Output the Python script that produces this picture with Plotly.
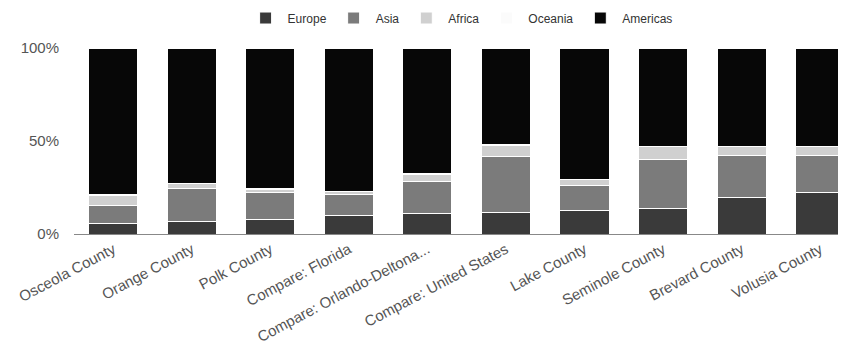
import plotly.graph_objects as go

categories = ["Osceola County", "Orange County", "Polk County", "Compare: Florida",
              "Compare: Orlando-Deltona...", "Compare: United States", "Lake County",
              "Seminole County", "Brevard County", "Volusia County"]

europe   = [5.7, 6.8, 7.9, 9.9, 10.8, 11.7, 12.8, 13.5, 19.5, 22.5]
asia     = [9.6, 17.5, 14.3, 11.1, 17.4, 30.0, 13.3, 26.5, 22.8, 19.8]
africa   = [5.4, 2.7, 1.8, 1.8, 4.0, 5.9, 3.1, 6.8, 4.5, 4.5]
oceania  = [0.3, 0.3, 0.3, 0.3, 0.3, 0.4, 0.3, 0.3, 0.4, 0.4]
americas = [79.0, 72.7, 75.7, 76.9, 67.5, 52.0, 70.5, 52.9, 52.8, 52.8]

series = [
    ("Europe", europe, "#3a3a3a"),
    ("Asia", asia, "#7b7b7b"),
    ("Africa", africa, "#d0d0d0"),
    ("Oceania", oceania, "#fbfbfb"),
    ("Americas", americas, "#070707"),
]

fig = go.Figure()
for name, vals, color in series:
    frac = [v / 100.0 for v in vals]
    fig.add_trace(go.Bar(
        name=name, x=categories, y=frac,
        marker=dict(color=color, line=dict(color="white", width=1)),
    ))

fig.update_layout(
    barmode="stack",
    bargap=0.375,
    width=846, height=358,
    margin=dict(l=66, r=8, t=40, b=132, autoexpand=False),
    paper_bgcolor="white", plot_bgcolor="white",
    font=dict(family="Liberation Sans, Arial, sans-serif", size=12, color="#555555"),
    showlegend=True,
    legend=dict(orientation="h", xref="container", x=0.535, xanchor="center",
                yref="container", y=0.972, yanchor="middle",
                font=dict(size=12, color="#333333"), itemwidth=34,
                traceorder="normal"),
)
fig.update_xaxes(
    tickangle=-28, showgrid=False, showline=True, linecolor="#888888", linewidth=1,
    range=[-0.5, 9.33], tickfont=dict(size=15, color="#555555"), ticks="",
    automargin=False,
)
fig.update_yaxes(
    range=[0, 1], tickvals=[0, 0.5, 1], ticktext=["0%", "50%", "100%"],
    showgrid=False, zeroline=False, showline=False, automargin=False,
    tickfont=dict(size=15, color="#555555"), ticklabelstandoff=14,
)

fig.write_html("out.html")
